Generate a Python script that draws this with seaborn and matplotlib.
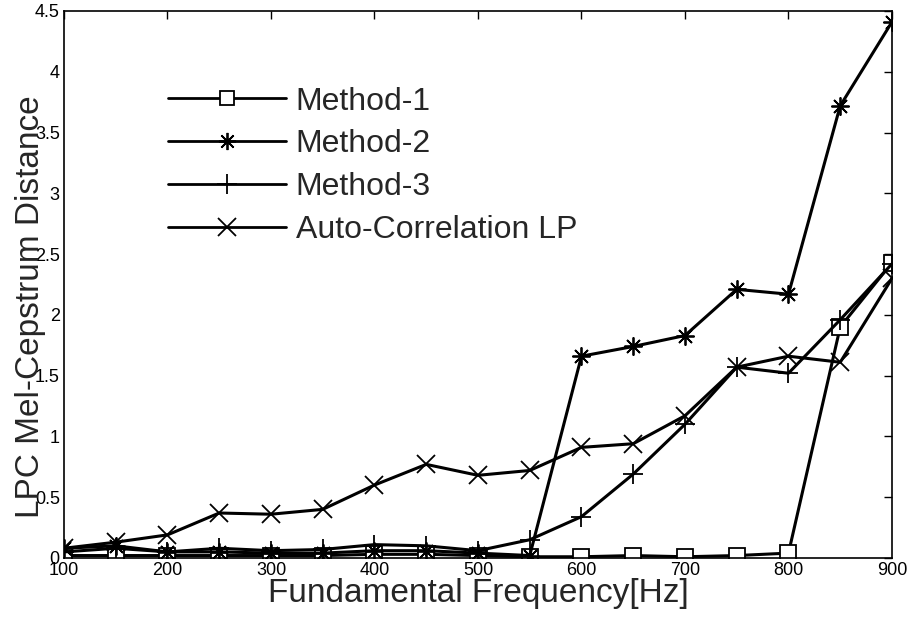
import numpy as np
import pandas as pd
import matplotlib
matplotlib.use("Agg")
import matplotlib.pyplot as plt
import seaborn as sns

freq = [100, 150, 200, 250, 300, 350, 400, 450, 500, 550, 600, 650, 700, 750, 800, 850, 900]
method1 = [0.02, 0.02, 0.02, 0.02, 0.02, 0.02, 0.03, 0.03, 0.02, 0.01, 0.01, 0.02, 0.01, 0.02, 0.04, 1.90, 2.43]
method2 = [0.08, 0.10, 0.05, 0.05, 0.04, 0.04, 0.06, 0.06, 0.04, 0.02, 1.66, 1.74, 1.83, 2.21, 2.17, 3.72, 4.41]
method3 = [0.05, 0.08, 0.05, 0.08, 0.06, 0.07, 0.11, 0.10, 0.06, 0.15, 0.34, 0.69, 1.10, 1.57, 1.52, 1.96, 2.42]
autocorr = [0.08, 0.13, 0.19, 0.37, 0.36, 0.40, 0.60, 0.77, 0.68, 0.72, 0.91, 0.94, 1.17, 1.57, 1.66, 1.61, 2.30]

series_names = ["Method-1", "Method-2", "Method-3", "Auto-Correlation LP"]
series_values = [method1, method2, method3, autocorr]
markers = ["s", (8, 2, 0), "+", "x"]
msizes = [11, 13, 15, 13]

yticks = [0, 0.5, 1, 1.5, 2, 2.5, 3, 3.5, 4, 4.5]
yticklabels = ["0", "0.5", "1", "1.5", "2", "2.5", "3", "3.5", "4", "4.5"]
xticks = [100, 200, 300, 400, 500, 600, 700, 800, 900]

sns.set_style("white")
plt.rcParams["font.family"] = ["Liberation Sans", "DejaVu Sans"]

fig = plt.figure(figsize=(9.1, 6.24), dpi=100)
ax = fig.add_axes([0.0703, 0.1058, 0.9099, 0.8766])

for name, vals, mk, ms in zip(series_names, series_values, markers, msizes):
    df = pd.DataFrame({"freq": freq, "dist": vals})
    sns.lineplot(data=df, x="freq", y="dist", ax=ax, color="black", linewidth=2.2,
                 marker=mk, markersize=ms, markerfacecolor="white",
                 markeredgecolor="black", markeredgewidth=1.3, label=name)

ax.set_xlim(100, 900)
ax.set_ylim(0, 4.5)
ax.set_xticks(xticks)
ax.set_xticklabels([str(x) for x in xticks], fontsize=13)
ax.set_yticks(yticks)
ax.set_yticklabels(yticklabels, fontsize=13)
ax.tick_params(direction="in", length=6, width=1, top=True, right=True, pad=3, colors="black")
for s in ax.spines.values():
    s.set_visible(True)
    s.set_color("black")
    s.set_linewidth(1.2)

ax.set_xlabel("Fundamental Frequency[Hz]", fontsize=24)
ax.set_ylabel("LPC Mel-Cepstrum Distance", fontsize=24)
ax.xaxis.set_label_coords(0.5, -0.036)
ax.yaxis.set_label_coords(-0.022, 0.46)

leg = ax.legend(loc="upper left", bbox_to_anchor=(0.11, 0.885), frameon=False,
                fontsize=23, handlelength=3.7, handletextpad=0.3, labelspacing=0.4,
                borderaxespad=0, markerscale=0.95)
for line in leg.get_lines():
    line.set_linewidth(2.0)

fig.savefig("out.png", dpi=100)
